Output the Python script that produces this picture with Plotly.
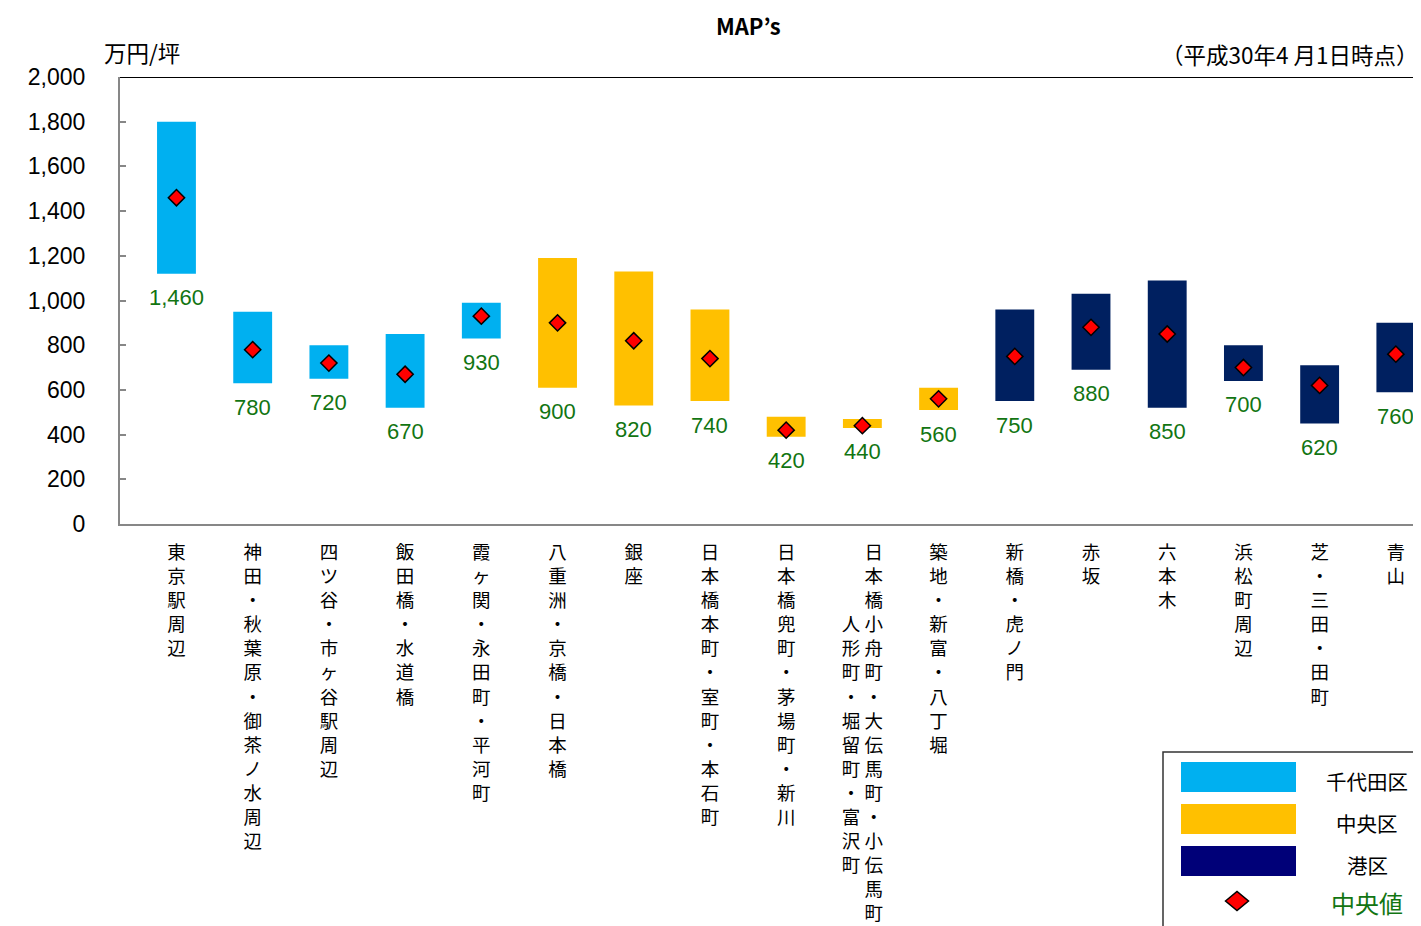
import plotly.graph_objects as go

# ---------------- data ----------------
categories = [
    "東京駅周辺", "神田・秋葉原・御茶ノ水周辺", "四ツ谷・市ヶ谷駅周辺", "飯田橋・水道橋",
    "霞ヶ関・永田町・平河町", "八重洲・京橋・日本橋", "銀座", "日本橋本町・室町・本石町",
    "日本橋兜町・茅場町・新川", "日本橋小舟町・大伝馬町・小伝馬町", "築地・新富・八丁堀",
    "新橋・虎ノ門", "赤坂", "六本木", "浜松町周辺", "芝・三田・田町", "青山",
]
category_second_column = {"日本橋小舟町・大伝馬町・小伝馬町": "人形町・堀留町・富沢町"}
wards = ["千代田区"] * 5 + ["中央区"] * 6 + ["港区"] * 6
ward_order = ["千代田区", "中央区", "港区"]
low_values = [1120, 630, 650, 520, 830, 610, 530, 550, 390, 430, 510, 550, 690, 520, 640, 450, 590]
high_values = [1800, 950, 800, 850, 990, 1190, 1130, 960, 480, 470, 610, 960, 1030, 1090, 800, 710, 900]
median_values = [1460, 780, 720, 670, 930, 900, 820, 740, 420, 440, 560, 750, 880, 850, 700, 620, 760]
y_tick_values = [0, 200, 400, 600, 800, 1000, 1200, 1400, 1600, 1800, 2000]
title_text = "MAP’s"
unit_text = "万円/坪"
date_text = "（平成30年4 月1日時点）"
median_legend_text = "中央値"

# ---------------- styles ----------------
ward_colors = {"千代田区": "#00B0F0", "中央区": "#FFC000", "港区": "#002060"}
legend_colors = {"千代田区": "#00B0F0", "中央区": "#FFC000", "港区": "#000078"}
GREEN = "#127512"
AXIS_GRAY = "#878787"
LATIN = "Liberation Sans, Arial, Noto Sans CJK JP"
CJK = "Noto Sans CJK JP, Liberation Sans"

# page has an 8px body margin; the figure is sized so it fills the window exactly
PAGE = 8
W, H = 1421 - PAGE, 926 - PAGE
L, T = 120 - PAGE, 77 - PAGE
B = H - (524 - PAGE)
R = 0
PW, PH = W - L - R, H - T - B


def px(x):
    """reference-window pixel x -> paper x"""
    return (x - PAGE - L) / PW


def py(y):
    """reference-window pixel y -> paper y"""
    return (H - B - (y - PAGE)) / PH


def vertical(text, second=None, offset=3):
    if second is None:
        return "<br>".join(text)
    rows = []
    n = max(len(text), offset + len(second))
    for r in range(n):
        right = text[r] if r < len(text) else "\u3000"
        li = r - offset
        left = second[li] if 0 <= li < len(second) else "\u3000"
        rows.append(left + " " + right)
    return "<br>".join(rows)


xs = list(range(len(categories)))
fig = go.Figure()

for ward in ward_order:
    idx = [i for i in xs if wards[i] == ward]
    fig.add_trace(go.Bar(
        x=idx,
        y=[high_values[i] - low_values[i] for i in idx],
        base=[low_values[i] for i in idx],
        marker=dict(color=ward_colors[ward], line=dict(width=0)),
        width=0.51,
        name=ward,
        showlegend=False,
    ))

fig.add_trace(go.Scatter(
    x=xs, y=median_values, mode="markers",
    marker=dict(symbol="diamond", size=12.5, color="#FF0000", line=dict(color="#000000", width=1.5)),
    name=median_legend_text, showlegend=False,
))

annotations = []
for i in xs:
    annotations.append(dict(
        x=i, y=low_values[i], xref="x", yref="y", text=f"{median_values[i]:,}",
        showarrow=False, yanchor="middle", yshift=-24,
        font=dict(family=LATIN, size=22, color=GREEN),
    ))

annotations += [
    dict(x=px(748), y=py(25), xref="paper", yref="paper", text=f"<b>{title_text}</b>", showarrow=False,
         xanchor="center", yanchor="middle", font=dict(family=CJK, size=22, color="#000000")),
    dict(x=px(102), y=py(52), xref="paper", yref="paper", text=unit_text, showarrow=False,
         xanchor="left", yanchor="middle", font=dict(family=CJK, size=22.5, color="#000000")),
    dict(x=1.0, y=py(54), xref="paper", yref="paper", text=date_text, showarrow=False,
         xanchor="right", yanchor="middle", font=dict(family=CJK, size=22.5, color="#000000")),
]

shapes = [
    dict(type="line", xref="paper", yref="y", x0=0, x1=1.05, y0=2000, y1=2000,
         line=dict(color="#000000", width=2)),
    # legend box (extends past the page edge, as in the reference)
    dict(type="rect", xref="paper", yref="paper", x0=px(1163), x1=px(1600), y0=py(752), y1=py(1100),
         line=dict(color="#333333", width=1.5), fillcolor="#FFFFFF"),
]
legend_rows = [762, 804, 846]
for ward, top in zip(ward_order, legend_rows):
    shapes.append(dict(type="rect", xref="paper", yref="paper", x0=px(1181), x1=px(1296),
                       y0=py(top + 30), y1=py(top), line=dict(width=0), fillcolor=legend_colors[ward]))
    annotations.append(dict(x=px(1367), y=py(top + 19), xref="paper", yref="paper", text=ward,
                            showarrow=False, xanchor="center", yanchor="middle",
                            font=dict(family=CJK, size=20.5, color="#000000")))
cx, cy, hw, hh = 1237, 901, 11.5, 9.5
shapes.append(dict(
    type="path", xref="paper", yref="paper",
    path=(f"M {px(cx - hw)},{py(cy)} L {px(cx)},{py(cy - hh)} L {px(cx + hw)},{py(cy)} "
          f"L {px(cx)},{py(cy + hh)} Z"),
    fillcolor="#FF0000", line=dict(color="#000000", width=1.5),
))
annotations.append(dict(x=px(1367), y=py(902), xref="paper", yref="paper", text=median_legend_text,
                        showarrow=False, xanchor="center", yanchor="middle",
                        font=dict(family=CJK, size=24, color=GREEN)))

fig.update_layout(
    width=W, height=H,
    margin=dict(l=L, r=R, t=T, b=B, pad=0),
    paper_bgcolor="#FFFFFF", plot_bgcolor="#FFFFFF",
    barmode="overlay",
    xaxis=dict(
        range=[-0.741, 16.33], tickmode="array", tickvals=xs,
        ticktext=[vertical(c, category_second_column.get(c)) for c in categories],
        showgrid=False, zeroline=False, ticks="", showline=True, linecolor=AXIS_GRAY, linewidth=2,
        tickfont=dict(family=CJK, size=18.5, color="#000000"), tickangle=0,
        ticklabelstandoff=11,
    ),
    yaxis=dict(
        range=[0, 2000], tickmode="array", tickvals=y_tick_values,
        ticktext=[f"{v:,}" for v in y_tick_values],
        showgrid=False, zeroline=False, ticks="inside", ticklen=6, tickwidth=1.5, tickcolor=AXIS_GRAY,
        showline=True, linecolor=AXIS_GRAY, linewidth=2,
        tickfont=dict(family=LATIN, size=23, color="#000000"),
        ticklabelstandoff=28,
    ),
    shapes=shapes,
    annotations=annotations,
    hovermode="closest",
)

fig.write_html("out.html")
